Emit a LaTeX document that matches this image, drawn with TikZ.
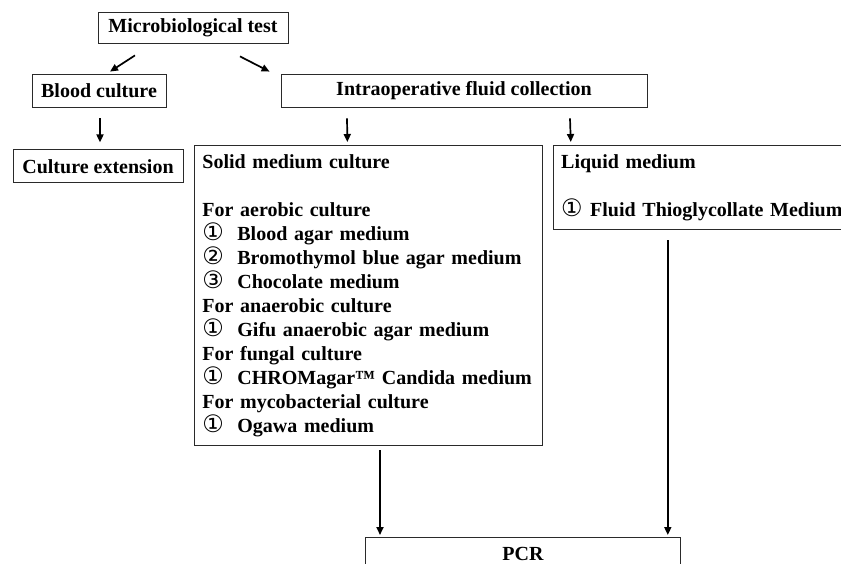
\documentclass[tikz,border=0pt]{standalone}
\usepackage{fontspec}
\setmainfont{Liberation Serif}
\newfontfamily\circfont{DejaVu Sans}
\usetikzlibrary{positioning, arrows.meta, calc}
\definecolor{borderMain}{HTML}{2A2A2A}
\definecolor{arrowColor}{HTML}{000000}
\definecolor{textMain}{HTML}{000000}
\newcommand{\numitem}[3][35pt]{\makebox[#1][l]{\circfont\mdseries\fontsize{24}{24}\selectfont #2}#3}
\tikzset{
  stepbox/.style={draw=borderMain, line width=0.8pt, inner sep=0pt,
    font=\fontsize{20}{24}\selectfont\bfseries, text=textMain, align=center},
  listbox/.style={draw=borderMain, line width=0.8pt, anchor=north west,
    inner xsep=8pt, inner ysep=9pt,
    font=\fontsize{20}{24}\selectfont\bfseries, text=textMain, align=left},
  stdarrow/.style={-{Triangle[length=8pt, width=7pt]}, line width=1.7pt, color=arrowColor},
}

\begin{document}
\begin{tikzpicture}[x=1pt, y=-1pt]
  \path[use as bounding box, clip] (0,0) rectangle (841,564);

  % === Row 1: Test ===
  \node[stepbox, minimum width=190pt, minimum height=31pt] (test) at (193,27.5) {Microbiological test};

  % === Row 2: Sample sources ===
  \node[stepbox, minimum width=134pt, minimum height=33pt] (blood) at (99,90.5) {Blood culture};
  \node[stepbox, minimum width=366pt, minimum height=33pt] (intra) at (464,90.5) {Intraoperative fluid collection};

  % Arrows: test -> sources
  \draw[stdarrow] ([xshift=-58pt, yshift=-12pt]test.south) -- ([xshift=11pt, yshift=2pt]blood.north);
  \draw[stdarrow] ([xshift=47pt, yshift=-13pt]test.south) -- ([xshift=-11pt, yshift=2pt]intra.north west);

  % === Row 3: Culture steps ===
  \node[stepbox, minimum width=170pt, minimum height=33pt, below=42pt of blood, xshift=-1pt] (ext) {Culture extension};

  \node[listbox, text width=332pt] (solid) at (194,145) {%
    Solid medium culture\\[24pt]
    For aerobic culture\\
    \numitem{①}{Blood agar medium}\\
    \numitem{②}{Bromothymol blue agar medium}\\
    \numitem{③}{Chocolate medium}\\
    For anaerobic culture\\
    \numitem{①}{Gifu anaerobic agar medium}\\
    For fungal culture\\
    \numitem{①}{CHROMagar™ Candida medium}\\
    For mycobacterial culture\\
    \numitem{①}{Ogawa medium}};

  \node[listbox, text width=290pt] (liquid) at ([xshift=10pt]solid.north east) {%
    Liquid medium\\[24pt]
    \numitem[29pt]{①}{Fluid Thioglycollate Medium}};

  % Arrows: sources -> culture steps
  \draw[stdarrow, shorten <=11pt, shorten >=7pt] ([xshift=1pt]blood.south) -- ([xshift=1pt]blood.south |- ext.north);
  \draw[stdarrow] ([xshift=-117pt, yshift=-11pt]intra.south) -- ([xshift=-21pt, yshift=3pt]solid.north);
  \draw[stdarrow] ([xshift=106pt, yshift=-11pt]intra.south) -- ([xshift=18pt, yshift=3pt]liquid.north west);

  % === Row 4: PCR ===
  \node[stepbox, anchor=north west, minimum width=315pt, inner ysep=4pt,
    text height=19pt, text depth=40pt] (pcr) at (365,537) {PCR};

  % Arrows: culture steps -> PCR
  \draw[stdarrow, shorten <=4pt, shorten >=2pt] ([xshift=15pt]pcr.north west |- solid.south) -- ([xshift=15pt]pcr.north west);
  \draw[stdarrow, shorten <=10pt, shorten >=2pt] ([xshift=-13pt]pcr.north east |- liquid.south) -- ([xshift=-13pt]pcr.north east);

\end{tikzpicture}
\end{document}
